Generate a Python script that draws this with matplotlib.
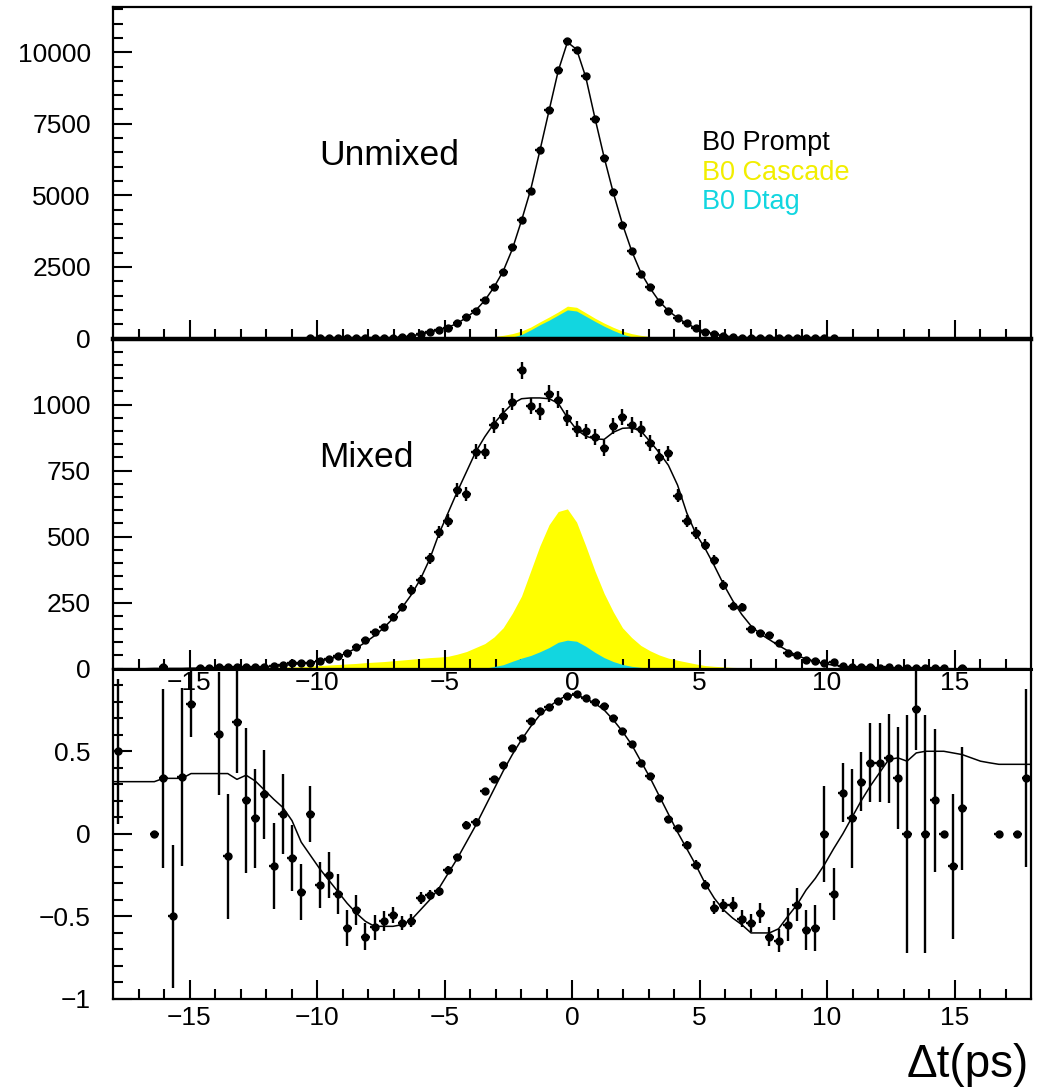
import numpy as np
import matplotlib
matplotlib.use("Agg")
import matplotlib.pyplot as plt
from matplotlib.ticker import MultipleLocator, FixedLocator, FuncFormatter

plt.rcParams['font.family'] = ['Liberation Sans', 'DejaVu Sans']

# ---- binning: 100 bins of delta-t between -18 and 18 ps ----
N_BINS = 100
T_MIN, T_MAX = -18.0, 18.0

# ---- unmixed events (counts per bin) ----
unmixed_counts = [
    0, 0, 0, 0, 0, 0, 0, 0, 0, 0,
    0, 0, 0, 0, 0, 0, 0, 0, 0, 0,
    0, 1, 1, 2, 2, 3, 4, 5, 8, 15,
    30, 55, 100, 170, 238, 297, 360, 531, 741, 962,
    1346, 1811, 2315, 3189, 4144, 5169, 6592, 7966, 9390, 10379,
    10089, 9155, 7665, 6301, 5112, 3969, 3070, 2245, 1811, 1287,
    972, 729, 531, 357, 238, 150, 95, 55, 30, 15,
    8, 5, 4, 3, 2, 2, 1, 1, 1, 0,
    0, 0, 0, 0, 0, 0, 0, 0, 0, 0,
    0, 0, 0, 0, 0, 0, 0, 0, 0, 0,
]
unmixed_fit = [
    0, 0, 0, 0, 0, 0, 0, 0, 0, 0,
    0, 0, 0, 0, 0, 0, 0, 0, 0, 0,
    0, 1, 1, 2, 2, 3, 4, 5, 7, 12,
    25, 50, 90, 150, 220, 300, 390, 530, 730, 980,
    1330, 1790, 2350, 3120, 4120, 5200, 6560, 7960, 9350, 10350,
    10100, 9130, 7700, 6330, 5090, 3990, 3060, 2300, 1760, 1300,
    970, 720, 520, 360, 240, 155, 95, 55, 30, 15,
    8, 5, 4, 3, 2, 2, 1, 1, 1, 0,
    0, 0, 0, 0, 0, 0, 0, 0, 0, 0,
    0, 0, 0, 0, 0, 0, 0, 0, 0, 0,
]
unmixed_cascade = [
    0, 0, 0, 0, 0, 0, 0, 0, 0, 0,
    0, 0, 0, 0, 0, 0, 0, 0, 0, 0,
    0, 0, 0, 0, 0, 0, 0, 0, 0, 0,
    0, 0, 0, 2, 4, 6, 8, 10, 14, 20,
    40, 70, 110, 170, 260, 400, 580, 750, 930, 1130,
    1090, 900, 710, 540, 390, 260, 170, 110, 70, 45,
    28, 18, 10, 5, 2, 0, 0, 0, 0, 0,
    0, 0, 0, 0, 0, 0, 0, 0, 0, 0,
    0, 0, 0, 0, 0, 0, 0, 0, 0, 0,
    0, 0, 0, 0, 0, 0, 0, 0, 0, 0,
]
unmixed_dtag = [
    0, 0, 0, 0, 0, 0, 0, 0, 0, 0,
    0, 0, 0, 0, 0, 0, 0, 0, 0, 0,
    0, 0, 0, 0, 0, 0, 0, 0, 0, 0,
    0, 0, 0, 0, 0, 0, 0, 0, 0, 2,
    4, 6, 10, 50, 140, 300, 480, 640, 820, 1000,
    960, 780, 600, 430, 280, 150, 60, 20, 8, 4,
    2, 0, 0, 0, 0, 0, 0, 0, 0, 0,
    0, 0, 0, 0, 0, 0, 0, 0, 0, 0,
    0, 0, 0, 0, 0, 0, 0, 0, 0, 0,
    0, 0, 0, 0, 0, 0, 0, 0, 0, 0,
]

# ---- mixed events ----
mixed_counts = [
    0, 0, 0, 0, 0, 5, 0, 0, 0, 2,
    4, 5, 5, 5, 5, 6, 7, 9, 14, 20,
    23, 20, 30, 36, 48, 58, 83, 109, 140, 157,
    197, 235, 298, 336, 418, 519, 561, 677, 662, 822,
    822, 923, 957, 1011, 1129, 995, 974, 1041, 1018, 950,
    907, 898, 876, 835, 919, 952, 923, 907, 854, 803,
    816, 655, 560, 512, 470, 412, 317, 238, 233, 149,
    134, 128, 96, 58, 50, 33, 30, 20, 27, 12,
    8, 6, 5, 4, 5, 3, 2, 3, 2, 1,
    1, 0, 1, 0, 0, 0, 0, 0, 0, 0,
]
mixed_fit = [
    0, 0, 0, 0, 1, 1, 1, 1, 2, 2,
    2, 3, 3, 4, 5, 6, 7, 9, 12, 16,
    20, 24, 29, 36, 46, 60, 78, 100, 125, 155,
    190, 232, 280, 340, 415, 510, 590, 670, 745, 820,
    878, 928, 968, 1003, 1022, 1025, 1025, 1022, 1005, 950,
    905, 880, 870, 868, 895, 910, 912, 900, 860, 818,
    770, 695, 590, 510, 455, 390, 320, 258, 205, 162,
    132, 110, 88, 68, 50, 37, 27, 19, 13, 9,
    6, 4, 3, 2, 2, 1, 1, 1, 1, 0,
    0, 0, 0, 0, 0, 0, 0, 0, 0, 0,
]
mixed_cascade = [
    0, 0, 0, 0, 0, 0, 0, 0, 0, 0,
    0, 0, 1, 2, 3, 4, 5, 5, 6, 7,
    8, 10, 12, 14, 16, 18, 20, 23, 25, 27,
    30, 33, 36, 39, 42, 44, 47, 55, 65, 80,
    95, 120, 155, 210, 275, 370, 465, 545, 595, 605,
    555, 465, 370, 285, 215, 155, 118, 88, 68, 52,
    40, 32, 25, 18, 12, 9, 7, 5, 4, 3,
    3, 3, 2, 2, 2, 1, 1, 0, 0, 0,
    0, 0, 0, 0, 0, 0, 0, 0, 0, 0,
    0, 0, 0, 0, 0, 0, 0, 0, 0, 0,
]
mixed_dtag = [
    0, 0, 0, 0, 0, 0, 0, 0, 0, 0,
    0, 0, 0, 0, 0, 0, 0, 0, 0, 0,
    0, 0, 0, 0, 0, 0, 0, 0, 0, 0,
    0, 0, 0, 0, 0, 0, 0, 0, 0, 1,
    2, 8, 15, 28, 40, 50, 64, 80, 100, 108,
    104, 85, 62, 42, 27, 16, 9, 5, 2, 1,
    0, 0, 0, 0, 0, 0, 0, 0, 0, 0,
    0, 0, 0, 0, 0, 0, 0, 0, 0, 0,
    0, 0, 0, 0, 0, 0, 0, 0, 0, 0,
    0, 0, 0, 0, 0, 0, 0, 0, 0, 0,
]

# ---- asymmetry (unmixed - mixed)/(unmixed + mixed); nan = empty bin ----
nan = float('nan')
asym_values = [
    0.50, nan, nan, nan, 0.0, 0.336, -0.50, 0.344, 0.785, nan,
    nan, 0.607, -0.136, 0.68, 0.202, 0.093, 0.239, -0.197, 0.121, -0.146,
    -0.352, 0.121, -0.308, -0.247, -0.364, -0.571, -0.46, -0.622, -0.567, -0.53,
    -0.49, -0.54, -0.526, -0.389, -0.368, -0.348, -0.217, -0.142, 0.056, 0.073,
    0.259, 0.330, 0.417, 0.522, 0.579, 0.684, 0.745, 0.769, 0.805, 0.836,
    0.846, 0.821, 0.800, 0.775, 0.700, 0.623, 0.542, 0.431, 0.350, 0.219,
    0.087, 0.036, -0.065, -0.186, -0.308, -0.446, -0.433, -0.429, -0.514, -0.540,
    -0.480, -0.622, -0.648, -0.551, -0.429, -0.581, -0.571, 0.0, -0.364, 0.249,
    0.093, 0.316, 0.431, 0.431, 0.457, 0.340, 0.0, 0.755, 0.0, 0.202,
    0.0, -0.197, 0.154, nan, nan, nan, 0.0, nan, 0.0, 0.340,
]
asym_errors = [
    0.44, 0, 0, 0, 0, 0.54, 0.435, 0.54, 0.20, 0,
    0, 0.37, 0.38, 0.31, 0.44, 0.30, 0.27, 0.26, 0.24, 0.20,
    0.17, 0.17, 0.14, 0.14, 0.12, 0.11, 0.09, 0.08, 0.075, 0.06,
    0.05, 0.045, 0.04, 0.035, 0.03, 0.028, 0.025, 0.022, 0.02, 0.02,
    0.018, 0.016, 0.015, 0.013, 0.012, 0.011, 0.01, 0.01, 0.01, 0.01,
    0.01, 0.01, 0.01, 0.01, 0.011, 0.012, 0.013, 0.015, 0.016, 0.018,
    0.02, 0.02, 0.022, 0.025, 0.028, 0.04, 0.04, 0.045, 0.05, 0.055,
    0.06, 0.06, 0.07, 0.10, 0.10, 0.12, 0.14, 0.29, 0.155, 0.18,
    0.30, 0.18, 0.24, 0.24, 0.27, 0.31, 0.72, 0.25, 0.72, 0.43,
    0, 0.44, 0.37, 0, 0, 0, 0, 0, 0, 0.54,
]
asym_fit = [
    0.316, 0.316, 0.316, 0.316, 0.316, 0.336, 0.336, 0.336, 0.365, 0.365,
    0.365, 0.365, 0.365, 0.33, 0.355, 0.32, 0.265, 0.21, 0.16, 0.08,
    -0.05, -0.13, -0.21, -0.28, -0.35, -0.42, -0.48, -0.53, -0.56, -0.56,
    -0.56, -0.55, -0.52, -0.46, -0.40, -0.33, -0.24, -0.15, -0.05, 0.05,
    0.16, 0.27, 0.38, 0.48, 0.57, 0.65, 0.72, 0.77, 0.81, 0.84,
    0.84, 0.82, 0.79, 0.75, 0.69, 0.62, 0.54, 0.44, 0.34, 0.23,
    0.12, 0.01, -0.09, -0.19, -0.30, -0.39, -0.46, -0.51, -0.55, -0.60,
    -0.60, -0.60, -0.575, -0.50, -0.43, -0.34, -0.27, -0.186, -0.09, 0.0,
    0.10, 0.20, 0.29, 0.37, 0.45, 0.46, 0.44, 0.49, 0.50, 0.50,
    0.50, 0.49, 0.48, 0.46, 0.44, 0.43, 0.421, 0.421, 0.421, 0.421,
]

legend_labels = ["B0 Prompt", "B0 Cascade", "B0 Dtag"]

# ---- styling ----
YELLOW = "#ffff00"
CYAN = "#12d6e0"
LEGEND_YELLOW = "#f2ee00"
TICK_FONT = 19

edges = np.linspace(T_MIN, T_MAX, N_BINS + 1)
centers = 0.5 * (edges[:-1] + edges[1:])
half_w = 0.5 * (edges[1] - edges[0])

W_PX, H_PX = 1051, 1089
fig = plt.figure(figsize=(W_PX / 100, H_PX / 100), dpi=100)
fig.patch.set_facecolor("white")

left = 113 / W_PX
width = (1031 - 113) / W_PX


def panel(top_px, bot_px):
    ax = fig.add_axes([left, 1 - bot_px / H_PX, width, (bot_px - top_px) / H_PX])
    ax.patch.set_visible(False)
    return ax


ax_top = panel(7, 338.5)
ax_mid = panel(338.5, 668.7)
ax_bot = panel(668.7, 999)

fmt = FuncFormatter(lambda v, p: ("%g" % v).replace("-", "\u2212"))

for ax in (ax_top, ax_mid, ax_bot):
    ax.set_xlim(T_MIN, T_MAX)
    for s in ax.spines.values():
        s.set_linewidth(1.6)
    ax.xaxis.set_major_locator(FixedLocator([-15, -10, -5, 0, 5, 10, 15]))
    ax.xaxis.set_minor_locator(FixedLocator(np.arange(-17, 18, 1)))
    ax.xaxis.set_major_formatter(fmt)
    ax.yaxis.set_major_formatter(fmt)
    ax.tick_params(which="both", direction="in", top=False, right=False,
                   width=1.5, labelsize=TICK_FONT, colors="black")
    ax.tick_params(which="major", length=14)
    ax.tick_params(which="minor", length=7)
    ax.tick_params(axis="y", pad=16)


def draw_counts(ax, counts, fit, cascade, dtag):
    counts = np.asarray(counts, float)
    ax.fill_between(centers, 0, cascade, color=YELLOW, lw=0, zorder=1)
    ax.fill_between(centers, 0, dtag, color=CYAN, lw=0, zorder=2)
    m = counts > 0
    ax.errorbar(centers[m], counts[m], yerr=np.sqrt(counts[m]), xerr=half_w,
                fmt="o", ms=5, color="black", ecolor="black",
                elinewidth=1.7, capsize=0, zorder=4)
    ax.plot(centers, fit, color="black", lw=1.1, zorder=5)


# ---- top: unmixed ----
draw_counts(ax_top, unmixed_counts, unmixed_fit, unmixed_cascade, unmixed_dtag)
ax_top.set_ylim(0, 11580)
ax_top.yaxis.set_major_locator(FixedLocator([0, 2500, 5000, 7500, 10000]))
ax_top.yaxis.set_minor_locator(MultipleLocator(500))
ax_top.tick_params(axis="x", labelbottom=False)
ax_top.spines["bottom"].set_linewidth(3.2)
ax_top.text(-9.9, 6400, "Unmixed", fontsize=25.5, va="center", ha="left")
for lab, col, yv in zip(legend_labels, ["black", LEGEND_YELLOW, CYAN],
                        [6840, 5790, 4780]):
    ax_top.text(5.1, yv, lab, color=col, fontsize=19.5, va="center", ha="left")

# ---- middle: mixed ----
draw_counts(ax_mid, mixed_counts, mixed_fit, mixed_cascade, mixed_dtag)
ax_mid.set_ylim(0, 1250)
ax_mid.yaxis.set_major_locator(FixedLocator([0, 250, 500, 750, 1000]))
ax_mid.yaxis.set_minor_locator(MultipleLocator(50))
ax_mid.tick_params(axis="x", pad=2)
ax_mid.spines["bottom"].set_linewidth(2.2)
ax_mid.text(-9.9, 800, "Mixed", fontsize=25.5, va="center", ha="left")

# ---- bottom: asymmetry ----
av = np.asarray(asym_values, float)
ae = np.asarray(asym_errors, float)
ok = ~np.isnan(av)
ax_bot.errorbar(centers[ok], av[ok], yerr=ae[ok], xerr=half_w, fmt="o",
                ms=5, color="black", ecolor="black", elinewidth=1.7,
                capsize=0, zorder=4)
fx = np.concatenate([[T_MIN], centers, [T_MAX]])
fy = np.concatenate([[asym_fit[0]], asym_fit, [asym_fit[-1]]])
ax_bot.plot(fx, fy, color="black", lw=1.1, zorder=5)
ax_bot.set_ylim(-1, 1)
ax_bot.yaxis.set_major_locator(FixedLocator([-1, -0.5, 0, 0.5]))
ax_bot.yaxis.set_minor_locator(MultipleLocator(0.1))
ax_bot.tick_params(axis="x", pad=5)

fig.text(1029 / W_PX, (H_PX - 1077) / H_PX, "\u0394t(ps)", fontsize=33,
         ha="right", va="baseline")

fig.savefig("out.png", dpi=100)
